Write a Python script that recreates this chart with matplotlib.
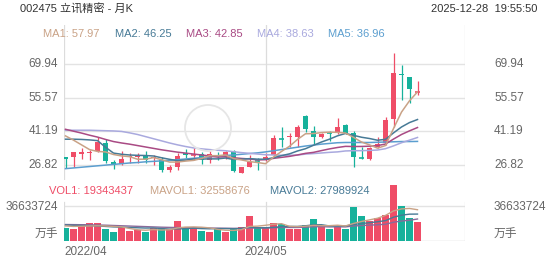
import matplotlib
matplotlib.use("Agg")
import matplotlib.pyplot as plt
from matplotlib.patches import Ellipse
import numpy as np

plt.rcParams['font.family'] = ['Liberation Sans', 'Noto Sans CJK SC', 'DejaVu Sans']

# Données mensuelles (2022/04 -> 2025/12)
months = ["2022/04", "2022/05", "2022/06", "2022/07", "2022/08", "2022/09", "2022/10", "2022/11",
          "2022/12", "2023/01", "2023/02", "2023/03", "2023/04", "2023/05", "2023/06", "2023/07",
          "2023/08", "2023/09", "2023/10", "2023/11", "2023/12", "2024/01", "2024/02", "2024/03",
          "2024/04", "2024/05", "2024/06", "2024/07", "2024/08", "2024/09", "2024/10", "2024/11",
          "2024/12", "2025/01", "2025/02", "2025/03", "2025/04", "2025/05", "2025/06", "2025/07",
          "2025/08", "2025/09", "2025/10", "2025/11", "2025/12"]

opens = [30.3, 30.5, 31.8, 32.0, 32.8, 36.1, 28.4, 27.4, 30.2, 30.5, 30.8, 29.8, 29.1, 24.9, 26.0,
         32.2, 31.2, 31.6, 29.2, 31.4, 30.8, 32.9, 23.6, 26.3, 29.0, 29.3, 31.2, 38.3, 38.9, 39.0,
         47.7, 41.5, 39.0, 40.7, 40.6, 43.8, 40.6, 30.0, 29.4, 34.5, 36.2, 46.3, 65.5, 64.2, 57.5]
closes = [29.7, 32.3, 32.4, 32.5, 36.8, 28.5, 27.0, 29.4, 30.9, 31.0, 28.9, 30.3, 24.9, 26.0, 30.8,
          31.0, 31.6, 29.2, 31.8, 30.9, 32.6, 24.2, 26.0, 28.3, 28.7, 30.5, 38.2, 37.9, 39.4, 43.2,
          42.2, 38.8, 39.9, 40.3, 42.9, 40.6, 30.2, 29.8, 34.0, 35.9, 46.0, 66.1, 65.0, 59.1, 57.97]
highs = [30.4, 32.6, 34.0, 33.5, 39.0, 37.8, 29.0, 32.9, 32.0, 32.0, 32.8, 31.3, 30.5, 26.8, 32.2,
         33.6, 34.0, 32.6, 33.0, 32.5, 33.0, 33.5, 26.3, 31.0, 29.8, 32.0, 39.7, 43.2, 40.5, 43.8,
         48.0, 43.5, 40.5, 41.5, 46.8, 44.5, 41.5, 34.5, 34.5, 39.0, 47.5, 74.4, 69.5, 64.5, 62.6]
lows = [25.5, 25.9, 29.5, 29.0, 32.5, 28.0, 25.3, 26.8, 28.0, 28.0, 28.0, 26.8, 24.0, 23.8, 25.0,
        30.0, 29.0, 27.5, 28.0, 29.0, 29.5, 24.0, 23.5, 26.0, 25.0, 28.8, 30.5, 34.7, 34.7, 34.7,
        41.0, 36.0, 38.5, 37.0, 40.0, 40.0, 26.2, 29.6, 29.0, 34.0, 35.5, 43.0, 54.5, 53.1, 56.8]

# Moyennes mobiles (MA1..MA5)
ma1 = [39.3, 37.5, 35.5, 33.5, 32.7, 32.5, 31.4, 30.8, 30.5, 29.4, 29.4, 30.1, 29.2, 28.2, 28.2,
       28.6, 28.9, 29.7, 30.9, 30.9, 31.2, 29.7, 29.1, 28.4, 28.0, 27.5, 30.3, 32.7, 34.9, 37.8,
       40.2, 40.3, 40.7, 40.9, 40.8, 40.5, 38.7, 36.7, 35.5, 34.1, 35.2, 42.4, 49.4, 54.2, 57.97]
ma2 = [37.9, 37.9, 37.8, 37.6, 37.3, 34.5, 32.0, 31.5, 31.2, 31.05, 30.97, 30.77, 30.02, 29.37, 28.77,
       29.02, 29.48, 29.46, 29.55, 29.54, 29.91, 29.30, 29.41, 29.64, 29.43, 29.38, 30.04, 30.91, 31.67, 32.90,
       33.86, 35.32, 36.71, 37.91, 39.33, 40.34, 39.54, 38.73, 38.19, 37.46, 37.84, 40.57, 43.08, 44.96, 46.25]
ma3 = [42.1, 41.3, 40.5, 39.6, 38.8, 37.8, 36.9, 36.3, 35.8, 35.2, 34.6, 34.0, 33.4, 32.9, 32.4,
       32.0, 31.6, 31.2, 30.8, 30.3, 30.44, 30.04, 29.72, 29.51, 29.10, 29.20, 29.76, 30.19, 30.61, 31.22,
       31.89, 32.31, 33.06, 33.78, 34.38, 34.86, 34.79, 34.82, 34.93, 35.18, 35.85, 37.95, 39.90, 41.44, 42.85]
ma4 = [41.7, 41.7, 41.7, 41.7, 41.6, 41.5, 41.4, 41.2, 40.6, 39.9, 39.0, 38.1, 37.2, 36.3, 35.5,
       34.8, 34.2, 33.8, 33.5, 33.2, 33.0, 32.6, 32.2, 31.9, 31.6, 31.3, 31.2, 31.1, 31.1, 31.16,
       31.58, 31.80, 32.05, 32.31, 32.51, 32.91, 33.02, 33.03, 33.14, 33.30, 33.87, 35.06, 36.40, 37.50, 38.63]
ma5 = [25.4, 25.7, 26.0, 26.3, 26.6, 26.9, 27.2, 27.5, 27.8, 28.0, 28.3, 28.5, 28.7, 28.9, 29.2,
       29.5, 29.8, 30.1, 30.4, 30.7, 31.0, 31.2, 31.5, 31.8, 32.1, 32.5, 33.0, 33.5, 34.0, 34.5,
       35.0, 35.4, 35.8, 36.1, 36.4, 36.5, 36.5, 36.5, 36.5, 36.6, 36.7, 36.8, 36.9, 36.9, 36.96]

# Volumes (en millions de mains) et moyennes
volumes = [13.0, 11.9, 17.2, 18.2, 18.2, 12.2, 9.4, 14.3, 10.5, 11.2, 9.4, 13.0, 11.9, 12.2, 20.6,
           13.9, 14.0, 10.5, 8.7, 12.6, 9.4, 12.6, 14.6, 25.9, 14.0, 14.0, 18.2, 17.2, 11.9, 12.6,
           16.3, 22.6, 15.5, 12.2, 14.9, 12.2, 35.5, 26.1, 20.6, 23.4, 27.5, 58.8, 36.6, 23.4, 19.343437]
mavol1 = [15.5, 15.0, 15.2, 15.5, 15.7, 15.5, 15.0, 14.5, 12.9, 11.5, 11.0, 11.7, 11.2, 11.5, 13.4,
          14.3, 14.5, 14.2, 13.5, 11.9, 11.0, 10.8, 11.6, 15.0, 15.3, 16.2, 17.3, 17.9, 15.1, 14.8,
          15.2, 16.1, 15.8, 15.8, 16.3, 15.5, 18.1, 20.2, 21.9, 23.6, 26.6, 31.3, 33.4, 33.9, 32.56]
mavol2 = [16.5, 16.2, 16.0, 15.8, 15.5, 15.0, 14.5, 14.2, 13.9, 13.6, 13.3, 13.4, 12.8, 12.2, 12.5,
          12.6, 13.1, 12.7, 12.5, 12.7, 12.7, 12.6, 12.9, 14.3, 13.6, 13.6, 14.1, 14.7, 15.0, 15.0,
          15.7, 16.7, 16.8, 15.5, 15.5, 15.4, 17.1, 18.0, 18.9, 19.9, 21.1, 24.7, 26.8, 27.9, 27.99]
mavol3 = [17.0, 16.9, 16.8, 16.7, 16.5, 16.3, 16.0, 15.7, 15.4, 15.1, 14.8, 14.5, 14.2, 14.0, 13.8,
          13.7, 13.6, 13.5, 13.3, 13.2, 13.1, 13.0, 12.9, 13.3, 13.3, 13.3, 13.6, 13.9, 13.9, 13.9,
          14.2, 14.7, 14.8, 14.5, 14.6, 14.5, 15.5, 15.9, 16.4, 16.7, 17.3, 19.4, 20.7, 21.5, 22.8]

price_ticks = [26.82, 41.19, 55.57, 69.94]
vol_tick = 36633724

RED = "#ef4d67"
GREEN = "#16b19b"
MA_COLORS = ["#c9a286", "#477a96", "#a94a84", "#a9a9de", "#5b9ecf"]
GRID = "#e3e3e3"
TXT = "#666666"

W, H = 552, 265
fig = plt.figure(figsize=(W / 100, H / 100), dpi=100, facecolor="white")

def fx(px):
    return px / W

def fy(py):
    return 1 - py / H

x = np.arange(len(months))
# index 0 a x=65.5 px, 8 px par mois
x_left, x_right = 64, 465
xlim = ((x_left - 65.5) / 8, (x_right - 65.5) / 8)

# Panneau des prix
ax = fig.add_axes([fx(x_left), fy(180), fx(x_right - x_left), (180 - 25) / H])
ax.set_xlim(*xlim)
ax.set_ylim(20.58, 86.37)
ax.axis("off")
for p in price_ticks:
    ax.axhline(p, color=GRID, lw=1, zorder=0)
for xv in [xlim[0] + 0.06, 25, xlim[1] - 0.06]:
    ax.axvline(xv, color="#dcdcdc", lw=0.9, zorder=0)

for i in x:
    up = closes[i] >= opens[i]
    c = RED if up else GREEN
    ax.vlines(i, lows[i], highs[i], color=c, lw=0.9, zorder=3)
    lo, hi = min(opens[i], closes[i]), max(opens[i], closes[i])
    if hi - lo < 0.5:
        ax.hlines((lo + hi) / 2, i - 0.32, i + 0.32, color=c, lw=1.2, zorder=3)
    else:
        ax.bar(i, hi - lo, bottom=lo, width=0.62, color=c, zorder=3, linewidth=0)

for ma, col in zip([ma5, ma4, ma3, ma2, ma1], MA_COLORS[::-1]):
    ax.plot(x, ma, color=col, lw=1.1, zorder=4)

# filigrane discret
wm = Ellipse((fx(208), fy(128)), 46 / W, 46 / H, transform=fig.transFigure, fill=False,
             ec="#e6e6e6", lw=1.3, zorder=1)
fig.add_artist(wm)

# Panneau des volumes
axv = fig.add_axes([fx(x_left), fy(240.7), fx(x_right - x_left), (240.7 - 180) / H])
axv.set_xlim(*xlim)
axv.set_ylim(0, 63.8)
axv.axis("off")
axv.axhline(vol_tick / 1e6, color=GRID, lw=1, zorder=0)
axv.axhline(0, color="#d5d5d5", lw=1, zorder=0)
vfrac = (240.7 - 202) / (240.7 - 180)
for xv in [xlim[0] + 0.06, 25, xlim[1] - 0.06]:
    axv.axvline(xv, ymin=0, ymax=vfrac, color="#dcdcdc", lw=0.9, zorder=0)
vcols = [RED if closes[i] >= opens[i] else GREEN for i in x]
axv.bar(x, volumes, width=0.78, color=vcols, linewidth=0, zorder=2)
axv.plot(x, mavol3, color="#8a6a9a", lw=1.0, zorder=3)
axv.plot(x, mavol2, color=MA_COLORS[1], lw=1.0, zorder=3)
axv.plot(x, mavol1, color=MA_COLORS[0], lw=1.0, zorder=3)

# Textes
fig.text(fx(20), fy(9), "002475 立讯精密 - 月K", fontsize=8, color="#333333", va="center")
fig.text(fx(537), fy(9), "2025-12-28  19:55:50", fontsize=8, color="#333333", va="center", ha="right")

ma_labels = ["MA1: 57.97", "MA2: 46.25", "MA3: 42.85", "MA4: 38.63", "MA5: 36.96"]
for lab, col, px in zip(ma_labels, MA_COLORS, [43, 115, 186, 257, 328]):
    fig.text(fx(px), fy(34), lab, fontsize=8, color=col, va="center")

for p in price_ticks:
    yy = 165.3 - (p - 26.82) * 2.356
    fig.text(fx(58), fy(yy), f"{p:.2f}", fontsize=8.5, color=TXT, va="center", ha="right")
    fig.text(fx(494), fy(yy), f"{p:.2f}", fontsize=8.5, color=TXT, va="center", ha="left")

vol_labels = [("VOL1: 19343437", RED, 49), ("MAVOL1: 32558676", MA_COLORS[0], 150),
              ("MAVOL2: 27989924", MA_COLORS[1], 270)]
for lab, col, px in vol_labels:
    fig.text(fx(px), fy(191.5), lab, fontsize=8, color=col, va="center")

fig.text(fx(58), fy(207), str(vol_tick), fontsize=8.5, color=TXT, va="center", ha="right")
fig.text(fx(494), fy(207), str(vol_tick), fontsize=8.5, color=TXT, va="center", ha="left")
fig.text(fx(58), fy(235), "万手", fontsize=8.5, color=TXT, va="center", ha="right")
fig.text(fx(494), fy(235), "万手", fontsize=8.5, color=TXT, va="center", ha="left")

fig.text(fx(64), fy(252), months[0], fontsize=8.5, color=TXT, va="center", ha="left")
fig.text(fx(65.5 + 25 * 8), fy(252), months[25], fontsize=8.5, color=TXT, va="center", ha="center")

fig.savefig("out.png", dpi=100, facecolor="white")
